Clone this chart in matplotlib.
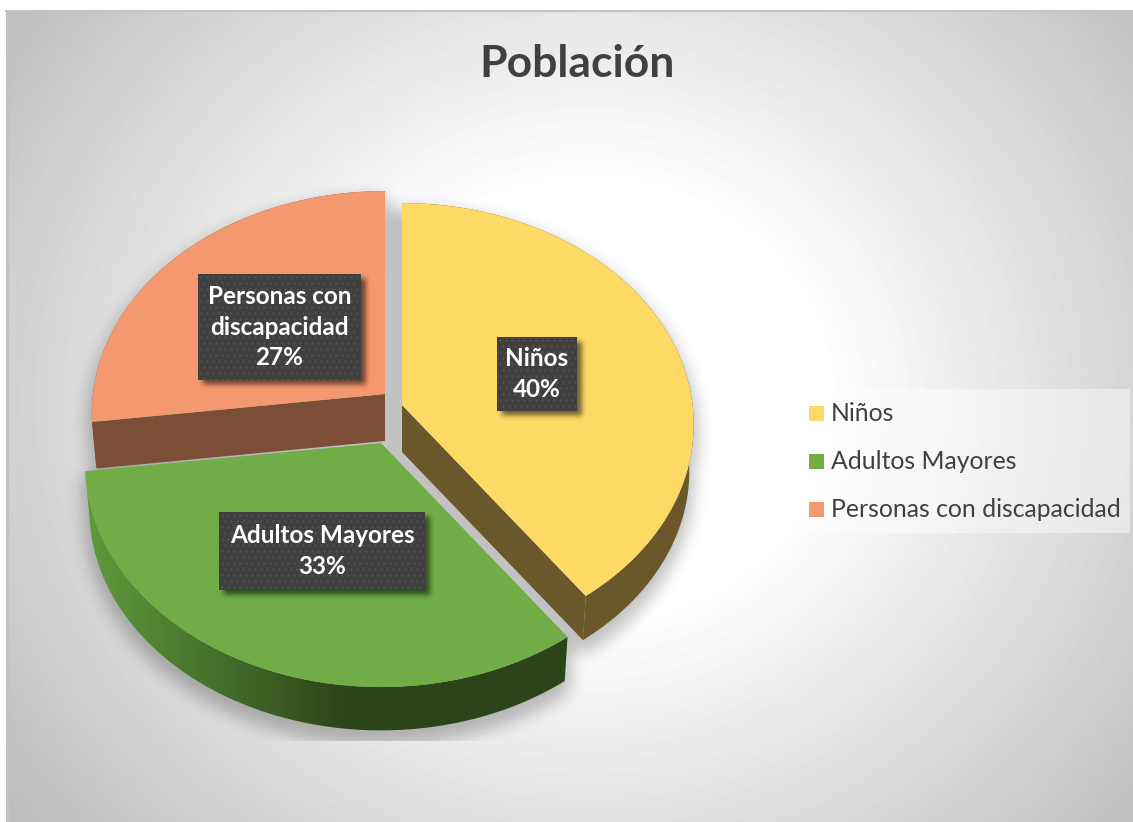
import matplotlib
matplotlib.use("Agg")
import matplotlib.pyplot as plt
from matplotlib.patches import Polygon, Rectangle
from matplotlib.path import Path
import numpy as np

categories = ["Niños", "Adultos Mayores", "Personas con discapacidad"]
values = [40, 33, 27]
label_lines = ["Niños", "Adultos Mayores", "Personas con\ndiscapacidad"]
top_colors = ["#FFD966", "#70AD47", "#F4996F"]
side_colors = ["#6A572A", "#2C4419", "#7B4E37"]

W, H = 1133, 822
RX, RY, PERSP = 295, 222.8, 0.087
DEPTH, SHRINK = 47, 0.985
centers = [(402, 405), (381, 443), (385, 394)]
scales = [0.985, 1.0, 0.99]
boxes = [(497, 337, 577, 411), (219, 512, 425, 590), (198, 274, 361, 380)]

plt.rcParams["font.family"] = ["Lato", "DejaVu Sans"]

fig = plt.figure(figsize=(W / 100, H / 100), dpi=100, facecolor="white")
ax = fig.add_axes([0, 0, 1, 1])
ax.set_xlim(0, W)
ax.set_ylim(H, 0)
ax.axis("off")


def arc(c, a0, a1, k=1.0):
    t = np.radians(np.linspace(a0, a1, 200))
    s = k / (1 + PERSP * np.cos(t))
    return np.column_stack([c[0] + RX * np.sin(t) * s, c[1] - RY * np.cos(t) * s])


def lower(c, pts):
    pts = np.atleast_2d(pts)
    return np.column_stack([c[0] + (pts[:, 0] - c[0]) * SHRINK,
                            c[1] + DEPTH + (pts[:, 1] - c[1]) * SHRINK])


def blur(a, r):
    for _ in range(3):
        k = np.ones(2 * r + 1) / (2 * r + 1)
        a = np.apply_along_axis(lambda m: np.convolve(m, k, mode="same"), 0, a)
        a = np.apply_along_axis(lambda m: np.convolve(m, k, mode="same"), 1, a)
    return a


def shadow_image(alpha, strength, zorder, extent=(0, W, H, 0)):
    img = np.zeros(alpha.shape + (4,))
    img[..., 3] = alpha * strength
    ax.imshow(img, extent=extent, zorder=zorder, aspect="auto", interpolation="bilinear")


# fondo radial
yy, xx = np.mgrid[11:H, 6:W]
r = np.hypot((xx - 590) / 567, (yy - 400) / 520)
bg = 255 - 66 * np.clip((r - 0.42) / 0.86, 0, 1)
ax.imshow(bg, cmap="gray", vmin=0, vmax=255, extent=(6, W, H, 11), zorder=0, aspect="auto")
ax.plot([6, W], [11.5, 11.5], color="#C4C4C4", lw=1.5, zorder=1)
ax.plot([7, 7], [11, H], color="#C2C2C2", lw=2, zorder=1)

# geometria de cada porcion a partir de los valores
starts = np.cumsum([0] + values[:-1]) / sum(values) * 360
ends = np.cumsum(values) / sum(values) * 360
slices = []
for c, a0, a1, k in zip(centers, starts, ends, scales):
    top = arc(c, a0, a1, k)
    slices.append((c, top, lower(c, top)))

# sombra del pastel
gy, gx = np.mgrid[0:H, 0:W]
grid = np.column_stack([gx.ravel() + 0.5, gy.ravel() + 0.5])
mask = Path(arc((391, 415), 0, 360)).contains_points(grid).reshape(H, W).astype(float)
for c, top, low in slices:
    mask = np.maximum(mask, Path(np.vstack([[c], top, [c]])).contains_points(grid).reshape(H, W))
    mask = np.maximum(mask, Path(np.vstack([top, low[::-1], top[:1]])).contains_points(grid).reshape(H, W))
    mask = np.maximum(mask, Path(np.vstack([lower(c, c), low, lower(c, c)])).contains_points(grid).reshape(H, W))
mask = (blur(mask, 5) > 0.2).astype(float)
mask = np.roll(mask, 10, axis=0)
soft = blur(mask, 7)
soft[741:, :] = 0
shadow_image(soft, 0.24, 2)

# porciones: caras laterales y tapa
draw_order = [2, 0, 1]
for i in draw_order:
    c, top, low = slices[i]
    rim = np.vstack([top, low[::-1]])
    if i == 1:
        # borde verde con degradado horizontal
        rim_patch = Polygon(rim, closed=True, facecolor="none", edgecolor="none", zorder=3)
        ax.add_patch(rim_patch)
        xs = np.linspace(70, 600, 530)
        c0 = np.array([0x5F, 0x9C, 0x3C]) / 255
        c1 = np.array([0x2C, 0x44, 0x19]) / 255
        g = np.clip((xs - 84) / (345 - 84), 0, 1)[None, :, None]
        grad = c0 * (1 - g) + c1 * g
        im = ax.imshow(grad, extent=(70, 600, H, 0), zorder=3, aspect="auto")
        im.set_clip_path(rim_patch)
    else:
        ax.add_patch(Polygon(rim, closed=True, facecolor=side_colors[i], edgecolor="none", zorder=3))
    if i == 0:
        face = np.vstack([[c], top[-1], lower(c, top[-1]), lower(c, c)])
        ax.add_patch(Polygon(face, closed=True, facecolor=side_colors[i], edgecolor="none", zorder=3))
    if i == 2:
        face = np.vstack([[c], top[0], lower(c, top[0]), lower(c, c)])
        ax.add_patch(Polygon(face, closed=True, facecolor=side_colors[i], edgecolor="none", zorder=3))
    ax.add_patch(Polygon(np.vstack([[c], top]), closed=True, facecolor=top_colors[i], edgecolor="none", zorder=4))

# etiquetas con fondo oscuro punteado
for (x0, y0, x1, y1), name, v in zip(boxes, label_lines, values):
    m = np.zeros((H, W))
    m[y0 + 5:y1 + 5, x0 + 5:x1 + 5] = 1
    shadow_image(blur(m, 2), 0.55, 5)
    ax.add_patch(Rectangle((x0, y0), x1 - x0, y1 - y0, facecolor="#404040", edgecolor="none", zorder=6))
    dx, dy = np.meshgrid(np.arange(x0 + 3, x1, 6), np.arange(y0 + 3, y1, 6))
    dx = dx + (np.arange(dx.shape[0])[:, None] % 2) * 3
    keep = dx < x1 - 1
    ax.scatter(dx[keep], dy[keep], s=2.4, color="#565656", linewidths=0, zorder=7)
    ax.text((x0 + x1) / 2, (y0 + y1) / 2, f"{name}\n{v}%", color="white", fontsize=17.5,
            fontweight="bold", ha="center", va="center", linespacing=1.38, zorder=8)

# leyenda
ax.add_patch(Rectangle((796, 389), 334, 144, facecolor="white", alpha=0.45, edgecolor="none", zorder=3))
for name, col, yc in zip(categories, top_colors, [413.5, 461.5, 509.5]):
    ax.add_patch(Rectangle((809, yc - 7.5), 15, 15, facecolor=col, edgecolor="none", zorder=4))
    ax.text(831, yc, name, color="#404040", fontsize=17.8, ha="left", va="center", zorder=4)

ax.text(577, 64, "Población", color="#404040", fontsize=32, fontweight="bold",
        ha="center", va="center", zorder=4)

ax.set_xlim(0, W)
ax.set_ylim(H, 0)
fig.savefig("out.png", dpi=100)
